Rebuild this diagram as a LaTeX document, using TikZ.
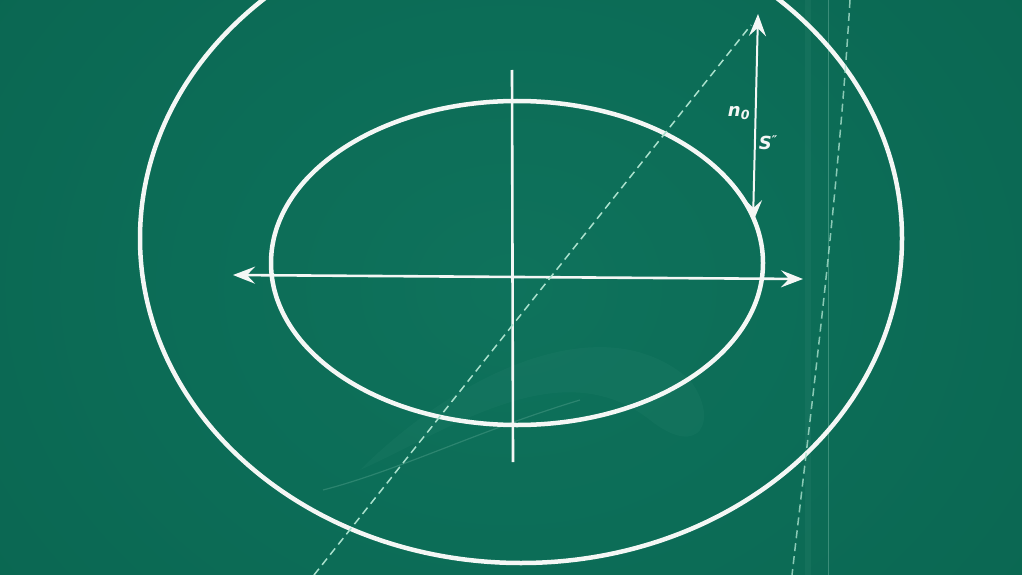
\documentclass[tikz,border=0pt]{standalone}
\usepackage{fontspec}
\setmainfont{DejaVu Sans}
\usetikzlibrary{arrows.meta,shapes.geometric}
\definecolor{board}{RGB}{12,110,88}
\definecolor{boardlight}{RGB}{18,120,97}
\definecolor{boarddark}{RGB}{8,94,74}
\definecolor{chalk}{RGB}{244,247,245}
\definecolor{chalkteal}{RGB}{170,225,205}
\tikzset{
  chalkline/.style={draw=chalk, line width=4.5pt},
  axisline/.style={draw=chalk, line width=2.6pt},
  thinarrow/.style={draw=chalk, line width=2pt},
  chalktips/.style={{Stealth[length=22pt,width=17pt,inset=8pt]}-{Stealth[length=22pt,width=17pt,inset=8pt]}},
  dashline/.style={draw=chalkteal, line width=1.5pt, dash pattern=on 8pt off 5pt},
  faint/.style={draw=chalkteal},
  lbl/.style={text=chalk, font=\bfseries\itshape\fontsize{18}{18}\selectfont, inner sep=0pt}
}
\begin{document}
\begin{tikzpicture}[x=1pt,y=-1pt]
\useasboundingbox (0,0) rectangle (1022,575);
\shade[inner color=boardlight, outer color=boarddark] (-200,-300) rectangle (1222,875);
\fill[board, opacity=0.5] (0,0) rectangle (1022,575);
% faint streaks and smudges
\draw[faint, line width=6pt, opacity=0.05] (808,0) -- (808,575);
\draw[faint, line width=1pt, opacity=0.3] (828,0) -- (828,575);
\draw[faint, line width=1.2pt, opacity=0.2] (323,490) .. controls (400,470) and (480,430) .. (580,400);
\fill[chalkteal, opacity=0.035] (360,470) .. controls (450,380) and (600,300) .. (690,380) .. controls (720,420) and (700,460) .. (650,420) .. controls (560,350) and (450,430) .. cycle;
% ellipses
\node[ellipse, chalkline, minimum width=762pt, minimum height=649pt, inner sep=0pt] (outer) at (521,238.5) {};
\node[ellipse, chalkline, minimum width=492pt, minimum height=324pt, inner sep=0pt] (inner) at (517,263) {};
% axes
\coordinate (vtop) at (512,70);
\coordinate (vbot) at (513,462);
\coordinate (hleft) at (233,275);
\coordinate (hright) at (803,279);
\draw[axisline] (vtop) -- (vbot);
\draw[axisline, chalktips] (hleft) -- (hright);
% dashed lines
\coordinate (dA) at (314,575);
\coordinate (dB) at (751,25);
\draw[dashline] (dA) -- (dB);
\coordinate (rA) at (850,0);
\coordinate (rB) at (792,575);
\draw[dashline, opacity=0.8] (rA) .. controls (838,200) and (812,400) .. (rB);
% vertical double arrow
\coordinate (atop) at (758,14);
\coordinate (abot) at (753,222);
\draw[thinarrow, chalktips] (atop) -- (abot);
% labels
\node[lbl] (n0) at (739,113) {n\textsubscript{0}};
\node[lbl] (s2) at (768,143) {S\raisebox{5pt}{\fontsize{12}{12}\selectfont″}};
\end{tikzpicture}
\end{document}
